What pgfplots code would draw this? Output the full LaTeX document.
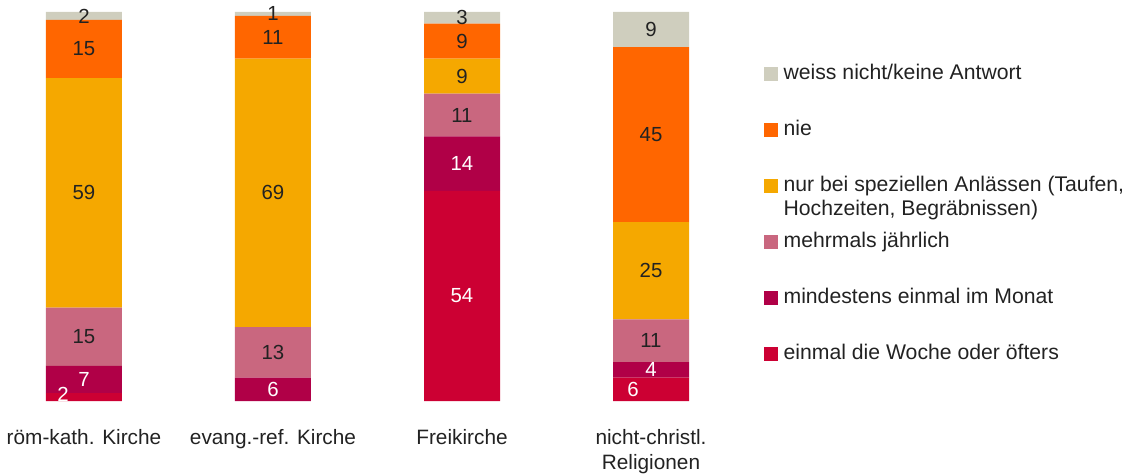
\documentclass[border=0pt]{standalone}
\usepackage{fontspec}
\setmainfont{Liberation Sans}
\usepackage{pgfplots}
\usepackage{pgfplotstable}
\pgfplotsset{compat=1.18}
\definecolor{cWeiss}{HTML}{CFCEBE}
\definecolor{cNie}{HTML}{FF6600}
\definecolor{cNur}{HTML}{F5A800}
\definecolor{cMehr}{HTML}{C9677F}
\definecolor{cMind}{HTML}{B00047}
\definecolor{cEin}{HTML}{CC0033}
\definecolor{txt}{HTML}{222222}
\pgfplotstableread{
x v dx dy lab
0 2 -10.5 1.5 2
1 0 0 0 {}
2 54 0 0 54
3 6 -9 0 6
}\tEin
\pgfplotstableread{
x v dx dy lab
0 7 0 0 7
1 6 0 0 6
2 14 0 0 14
3 4 0 0 4
}\tMind
\pgfplotstableread{
x v dx dy lab
0 15 0 0 15
1 13 0 0 13
2 11 0 0 11
3 11 0 0 11
}\tMehr
\pgfplotstableread{
x v dx dy lab
0 59 0 0 59
1 69 0 0 69
2 9 0 0 9
3 25 0 0 25
}\tNur
\pgfplotstableread{
x v dx dy lab
0 15 0 0 15
1 11 0 0 11
2 9 0 0 9
3 45 0 0 45
}\tNie
\pgfplotstableread{
x v dx dy lab
0 2 0 0 2
1 1 0 0 1
2 3 0 0 3
3 9 0 0 9
}\tWeiss
\begin{document}
\begin{tikzpicture}
\path[use as bounding box] (0pt,-37.5pt) rectangle (562pt,200.5pt);
\begin{axis}[
  at={(0,0)}, anchor=south west,
  x=94.5pt, y=1.945pt,
  xmin=-0.4444, xmax=3.5, ymin=0, ymax=100,
  enlargelimits=false,
  ybar stacked, bar width=38pt,
  axis line style={draw=none}, tick style={draw=none},
  ytick=\empty,
  xtick={0,1,2,3},
  xticklabels={{röm-kath. Kirche},{evang.-ref. Kirche},{Freikirche},{nicht-christl.\\Religionen}},
  xticklabel style={font=\fontsize{10.4}{12.5}\selectfont, align=center, anchor=north, inner sep=0pt, yshift=-14pt, text=txt},
  legend style={at={(1.0248,0.8663)}, anchor=north west, draw=none, fill=none,
    inner sep=0pt, outer sep=0pt, row sep=18pt, column sep=3pt,
    font=\fontsize{10.6}{12}\selectfont,
    nodes={inner sep=0pt, text height=7.5pt, text depth=2.5pt, text=txt}},
  legend cell align=left, reverse legend,
  legend image code/.code={\fill[#1,draw=none] (0pt,-3.4pt) rectangle (6.8pt,3.4pt);},
  nodes near coords, point meta=explicit symbolic,
  visualization depends on={\thisrow{dx} \as \segdx},
  visualization depends on={\thisrow{dy} \as \segdy},
  nodes near coords style={anchor=center, inner sep=0pt, text=txt, font=\fontsize{10.2}{12}\selectfont, xshift={\segdx*1pt}, yshift={\segdy*1pt}},
]
\addplot+[fill=cEin, draw=none, nodes near coords style={text=white}] table[x=x,y=v,meta=lab] {\tEin};
\addlegendentry{einmal die Woche oder öfters}
\addplot+[fill=cMind, draw=none, nodes near coords style={text=white}] table[x=x,y=v,meta=lab] {\tMind};
\addlegendentry{mindestens einmal im Monat}
\addplot+[fill=cMehr, draw=none] table[x=x,y=v,meta=lab] {\tMehr};
\addlegendentry{mehrmals jährlich}
\addplot+[fill=cNur, draw=none] table[x=x,y=v,meta=lab] {\tNur};
\addlegendentry{\begin{tabular}[t]{@{}l@{}}nur bei speziellen Anlässen (Taufen,\\Hochzeiten, Begräbnissen)\end{tabular}}
\addplot+[fill=cNie, draw=none] table[x=x,y=v,meta=lab] {\tNie};
\addlegendentry{nie}
\addplot+[fill=cWeiss, draw=none] table[x=x,y=v,meta=lab] {\tWeiss};
\addlegendentry{weiss nicht/keine Antwort}
\end{axis}
\end{tikzpicture}
\end{document}
